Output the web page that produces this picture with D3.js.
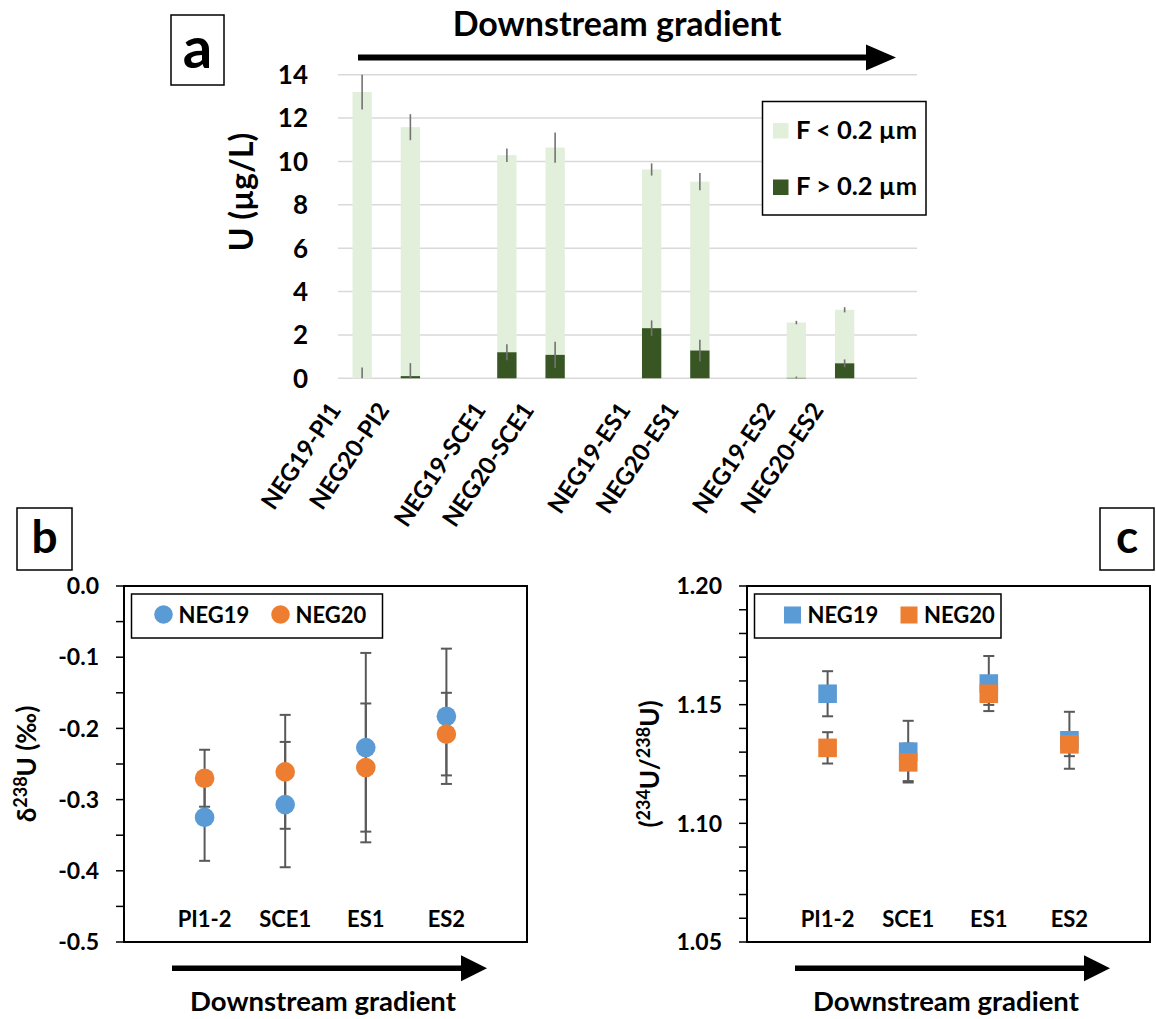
<!DOCTYPE html>
<html>
<head>
<meta charset="utf-8">
<script src="https://cdn.jsdelivr.net/npm/d3@7"></script>
<style>
  html, body { margin: 0; padding: 0; background: #ffffff; overflow: hidden; }
  svg { display: block; }
  text { font-family: Lato, "Open Sans", sans-serif; font-weight: bold; fill: #000; }
</style>
</head>
<body>
<svg id="chart" width="1156" height="1019"></svg>
<script>
// ---------------- DATA ----------------
// Panel a : U concentration (µg/L)
const samplesA = ["NEG19-PI1", "NEG20-PI2", "NEG19-SCE1", "NEG20-SCE1",
                  "NEG19-ES1", "NEG20-ES1", "NEG19-ES2", "NEG20-ES2"];
const fineValues   = [13.2, 11.58, 10.29, 10.64, 9.63, 9.07, 2.57, 3.16];   // F < 0.2 µm
const fineErrors   = [0.8, 0.6, 0.31, 0.7, 0.28, 0.4, 0.08, 0.12];
const coarseValues = [0.0, 0.1, 1.2, 1.08, 2.31, 1.28, 0.02, 0.69];         // F > 0.2 µm
const coarseErrors = [0.5, 0.6, 0.37, 0.6, 0.36, 0.5, 0.06, 0.18];
const yTicksA = [0, 2, 4, 6, 8, 10, 12, 14];
const legendA = ["F < 0.2 µm", "F > 0.2 µm"];

// Panels b and c : sites
const sites = ["PI1-2", "SCE1", "ES1", "ES2"];
const seriesNames = ["NEG19", "NEG20"];
// Panel b : δ238U (‰)
const d238_NEG19 = [-0.325, -0.307, -0.227, -0.183];
const d238_NEG19_err = [0.061, 0.088, 0.133, 0.095];
const d238_NEG20 = [-0.270, -0.261, -0.255, -0.208];
const d238_NEG20_err = [0.040, 0.080, 0.090, 0.058];
const yTicksB = [0.0, -0.1, -0.2, -0.3, -0.4, -0.5];
// Panel c : (234U/238U)
const ar_NEG19 = [1.1546, 1.1302, 1.1589, 1.1350];
const ar_NEG19_err = [0.0095, 0.013, 0.0116, 0.012];
const ar_NEG20 = [1.1318, 1.1257, 1.1546, 1.1333];
const ar_NEG20_err = [0.0066, 0.0079, 0.0047, 0.005];
const yTicksC = [1.05, 1.10, 1.15, 1.20];

const gradientLabel = "Downstream gradient";

// ---------------- COLORS ----------------
const cLight = "#E2EFDA", cDark = "#375623";
const cBlue = "#5B9BD5", cOrange = "#ED7D31";
const cErr = "#595959", cGrid = "#D9D9D9";

const svg = d3.select("#chart");

function arrow(g, x0, x1, y, thick, headLen, headHalf) {
  g.append("line").attr("x1", x0).attr("x2", x1 - headLen + 2).attr("y1", y).attr("y2", y)
    .attr("stroke", "#000").attr("stroke-width", thick);
  g.append("path").attr("d", `M${x1 - headLen},${y - headHalf} L${x1},${y} L${x1 - headLen},${y + headHalf} Z`)
    .attr("fill", "#000");
}
function labelBox(x, y, w, h, txt, size, baseline) {
  svg.append("rect").attr("x", x).attr("y", y).attr("width", w).attr("height", h)
    .attr("fill", "#fff").attr("stroke", "#000").attr("stroke-width", 1.5);
  svg.append("text").attr("x", x + w / 2).attr("y", baseline).attr("text-anchor", "middle")
    .style("font-size", size + "px").text(txt);
}

// ================= PANEL A =================
(function () {
  const g = svg.append("g");
  // band domain with an empty slot after each pair
  const domain = [];
  samplesA.forEach((s, i) => { domain.push(s); if (i % 2 === 1) domain.push("gap" + i); });
  const x = d3.scaleBand().domain(domain).range([338, 917]).paddingInner(0.6).paddingOuter(0.3);
  const y = d3.scaleLinear().domain([0, 14]).range([378.3, 74.7]);

  // gridlines
  g.selectAll(".grid").data(yTicksA).join("line")
    .attr("x1", 338).attr("x2", 917).attr("y1", d => y(d)).attr("y2", d => y(d))
    .attr("stroke", cGrid).attr("stroke-width", 1.5);
  // tick labels
  g.selectAll(".yl").data(yTicksA).join("text")
    .attr("x", 308).attr("y", d => y(d)).attr("dy", "0.36em").attr("text-anchor", "end")
    .style("font-size", "26px").text(d => d);

  const bw = x.bandwidth();
  // fine bars
  g.selectAll(".fine").data(samplesA).join("rect")
    .attr("x", d => x(d)).attr("width", bw)
    .attr("y", (d, i) => y(fineValues[i])).attr("height", (d, i) => y(0) - y(fineValues[i]))
    .attr("fill", cLight);
  // coarse bars
  g.selectAll(".coarse").data(samplesA).join("rect")
    .attr("x", d => x(d)).attr("width", bw)
    .attr("y", (d, i) => y(coarseValues[i])).attr("height", (d, i) => y(0) - y(coarseValues[i]))
    .attr("fill", cDark);
  // error bars
  function errs(vals, errsArr) {
    g.selectAll(null).data(samplesA).join("line")
      .attr("x1", d => x(d) + bw / 2).attr("x2", d => x(d) + bw / 2)
      .attr("y1", (d, i) => y(vals[i] + errsArr[i]))
      .attr("y2", (d, i) => y(Math.max(0, vals[i] - errsArr[i])))
      .attr("stroke", "#737373").attr("stroke-width", 1.6);
  }
  errs(fineValues, fineErrors);
  errs(coarseValues, coarseErrors);

  // x labels rotated
  g.selectAll(".xl").data(samplesA).join("text")
    .attr("text-anchor", "end")
    .attr("transform", d => `translate(${x(d) + bw / 2 - 20},${410}) rotate(-56)`)
    .style("font-size", "24px").text(d => d);

  // y title
  g.append("text").attr("transform", "translate(253,192) rotate(-90)").attr("text-anchor", "middle")
    .style("font-size", "32px").text("U (µg/L)");

  // legend
  g.append("rect").attr("x", 762.5).attr("y", 101.5).attr("width", 163.5).attr("height", 113.5)
    .attr("fill", "#fff").attr("stroke", "#000").attr("stroke-width", 1.5);
  [cLight, cDark].forEach((c, i) => {
    g.append("rect").attr("x", 773).attr("y", 123 + i * 56.5).attr("width", 15.5).attr("height", 15.5).attr("fill", c);
    g.append("text").attr("x", 796).attr("y", 138.5 + i * 56.5).style("font-size", "25.5px").text(legendA[i]);
  });

  // title & arrow
  g.append("text").attr("x", 617).attr("y", 36).attr("text-anchor", "middle")
    .style("font-size", "34px").text(gradientLabel);
  arrow(g, 358, 896, 57.5, 6, 30, 13);

  labelBox(171, 15, 53, 70, "a", 58, 68);
})();

// ========== helper for panels b / c ==========
function scatterPanel(opts) {
  const g = svg.append("g");
  const x = d3.scaleLinear().domain([0, sites.length + 1]).range([opts.left, opts.left + 403]);
  const y = d3.scaleLinear().domain(opts.yDomain).range([942, 586]);

  // minor/major ticks (outside)
  const minor = d3.range(opts.yDomain[0], opts.yDomain[1] + opts.minorStep / 2, opts.minorStep);
  g.selectAll(".mt").data(minor).join("line")
    .attr("x1", opts.left - 8).attr("x2", opts.left).attr("y1", d => y(d)).attr("y2", d => y(d))
    .attr("stroke", "#000").attr("stroke-width", 1.5);
  g.selectAll(".yl").data(opts.ticks).join("text")
    .attr("x", opts.left - 25).attr("y", d => y(d)).attr("dy", "0.36em").attr("text-anchor", "end")
    .style("font-size", "23px").text(d => opts.fmt(d));

  // frame
  g.append("rect").attr("x", opts.left).attr("y", 586).attr("width", 403).attr("height", 356)
    .attr("fill", "none").attr("stroke", "#000").attr("stroke-width", 2);

  // category labels
  g.selectAll(".cl").data(sites).join("text")
    .attr("x", (d, i) => x(i + 1)).attr("y", 927).attr("text-anchor", "middle")
    .style("font-size", "22px").text(d => d);

  // error bars
  const series = [
    { v: opts.v19, e: opts.e19, c: cBlue },
    { v: opts.v20, e: opts.e20, c: cOrange }
  ];
  series.forEach(s => {
    s.v.forEach((v, i) => {
      const cx = x(i + 1);
      g.append("line").attr("x1", cx).attr("x2", cx).attr("y1", y(v + s.e[i])).attr("y2", y(v - s.e[i]))
        .attr("stroke", cErr).attr("stroke-width", 2);
      [v + s.e[i], v - s.e[i]].forEach(t => {
        g.append("line").attr("x1", cx - 5.5).attr("x2", cx + 5.5).attr("y1", y(t)).attr("y2", y(t))
          .attr("stroke", cErr).attr("stroke-width", 2);
      });
    });
  });
  series.forEach(s => {
    s.v.forEach((v, i) => {
      const cx = x(i + 1);
      if (opts.marker === "circle") {
        g.append("circle").attr("cx", cx).attr("cy", y(v)).attr("r", 9.8).attr("fill", s.c);
      } else {
        g.append("rect").attr("x", cx - 9.3).attr("y", y(v) - 9.3).attr("width", 18.6).attr("height", 18.6)
          .attr("fill", s.c);
      }
    });
  });

  // legend
  const lx = opts.left + 7.5;
  g.append("rect").attr("x", lx).attr("y", 594).attr("width", opts.legendW).attr("height", 44)
    .attr("fill", "#fff").attr("stroke", "#000").attr("stroke-width", 1.5);
  seriesNames.forEach((nm, i) => {
    const mx = lx + opts.legendMarkX[i];
    if (opts.marker === "circle") {
      g.append("circle").attr("cx", mx).attr("cy", 614.5).attr("r", 9.3).attr("fill", i ? cOrange : cBlue);
    } else {
      g.append("rect").attr("x", mx - 8.5).attr("y", 606.5).attr("width", 17).attr("height", 17)
        .attr("fill", i ? cOrange : cBlue);
    }
    g.append("text").attr("x", mx + opts.legendTextDx).attr("y", 622.5).style("font-size", "22px").text(nm);
  });

  // axis title
  const t = g.append("text").attr("transform", `translate(${opts.titleX},764) rotate(-90)`)
    .attr("text-anchor", "middle").style("font-size", "26px");
  opts.title(t);

  // bottom arrow + text
  arrow(g, opts.left + 48, opts.left + 363, 968.3, 5.5, 26, 13);
  g.append("text").attr("x", opts.left + 199).attr("y", 1011).attr("text-anchor", "middle")
    .style("font-size", "27.5px").text(gradientLabel);
}

// ================= PANEL B =================
scatterPanel({
  left: 124, yDomain: [-0.5, 0], ticks: yTicksB, minorStep: 0.05,
  fmt: d => d3.format(".1f")(d).replace("−", "-"),
  v19: d238_NEG19, e19: d238_NEG19_err, v20: d238_NEG20, e20: d238_NEG20_err,
  marker: "circle", legendW: 251, legendMarkX: [32, 149], legendTextDx: 15,
  titleX: 36,
  title: t => {
    t.append("tspan").text("δ");
    t.append("tspan").attr("dy", -9).style("font-size", "18px").text("238");
    t.append("tspan").attr("dy", 9).text("U (‰)");
  }
});
labelBox(17, 508, 55, 62, "b", 46, 553);

// ================= PANEL C =================
scatterPanel({
  left: 747, yDomain: [1.05, 1.20], ticks: yTicksC, minorStep: 0.01,
  fmt: d => d3.format(".2f")(d),
  v19: ar_NEG19, e19: ar_NEG19_err, v20: ar_NEG20, e20: ar_NEG20_err,
  marker: "square", legendW: 246.5, legendMarkX: [38, 154.5], legendTextDx: 15,
  titleX: 659,
  title: t => {
    t.append("tspan").text("(");
    t.append("tspan").attr("dy", -9).style("font-size", "18px").text("234");
    t.append("tspan").attr("dy", 9).text("U/");
    t.append("tspan").attr("dy", -9).style("font-size", "18px").text("238");
    t.append("tspan").attr("dy", 9).text("U)");
  }
});
labelBox(1100, 508, 54, 62, "c", 46, 553);
</script>
</body>
</html>
